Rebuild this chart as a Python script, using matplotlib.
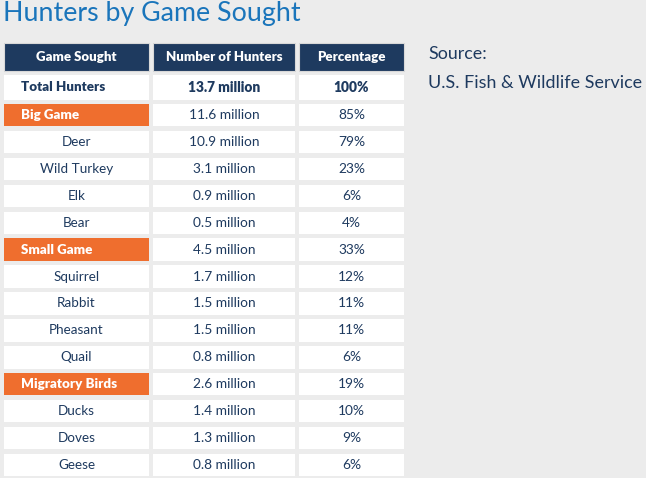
import matplotlib.pyplot as plt
from matplotlib.patches import Rectangle

plt.rcParams['font.family'] = ['Lato', 'DejaVu Sans']

# table content
headers = ['Game Sought', 'Number of Hunters', 'Percentage']
games = ['Total Hunters', 'Big Game', 'Deer', 'Wild Turkey', 'Elk', 'Bear',
         'Small Game', 'Squirrel', 'Rabbit', 'Pheasant', 'Quail',
         'Migratory Birds', 'Ducks', 'Doves', 'Geese']
hunters = ['13.7 million', '11.6 million', '10.9 million', '3.1 million', '0.9 million',
           '0.5 million', '4.5 million', '1.7 million', '1.5 million', '1.5 million',
           '0.8 million', '2.6 million', '1.4 million', '1.3 million', '0.8 million']
percent = ['100%', '85%', '79%', '23%', '6%', '4%', '33%', '12%', '11%', '11%',
           '6%', '19%', '10%', '9%', '6%']
kind = ['total', 'group', 'item', 'item', 'item', 'item', 'group', 'item', 'item',
        'item', 'item', 'group', 'item', 'item', 'item']

bg = '#ececec'
navy = '#1e3a5f'
orange = '#ef6e2e'
blue = '#1a75bb'

fig = plt.figure(figsize=(6.46, 4.78), dpi=100)
fig.patch.set_facecolor(bg)
ax = fig.add_axes([0, 0, 1, 1])
ax.set_xlim(0, 646)
ax.set_ylim(478, 0)
ax.axis('off')

ax.text(3, 13, 'Hunters by Game Sought', color=blue, fontsize=19.3,
        va='center', ha='left')

cols = [(4, 149), (153, 295), (299, 404)]

# header row
for (x0, x1), h in zip(cols, headers):
    ax.add_patch(Rectangle((x0, 43), x1 - x0, 28, facecolor=navy,
                           edgecolor='#d8d8d8', lw=0.8))
    ax.text((x0 + x1) / 2, 57, h, color='white', fontsize=9.5,
            fontweight='heavy', ha='center', va='center')

# body rows
for i, (g, n, p, k) in enumerate(zip(games, hunters, percent, kind)):
    top = 77 + i * 26.9 if i > 0 else 75
    bot = 77 + i * 26.9 + 22.5
    yc = (top + bot) / 2
    for j, (x0, x1) in enumerate(cols):
        fc = orange if (k == 'group' and j == 0) else 'white'
        ax.add_patch(Rectangle((x0, top), x1 - x0, bot - top, facecolor=fc,
                               edgecolor='none'))
    if k == 'group':
        ax.text(21, yc, g, color='white', fontsize=9.6, fontweight='heavy',
                ha='left', va='center')
    elif k == 'total':
        ax.text(21, yc, g, color=navy, fontsize=9.6, fontweight='heavy',
                ha='left', va='center')
    else:
        ax.text((cols[0][0] + cols[0][1]) / 2, yc, g, color=navy, fontsize=9.7,
                ha='center', va='center')
    w = 'heavy' if k == 'total' else 'normal'
    ax.text((cols[1][0] + cols[1][1]) / 2, yc, n, color=navy, fontsize=9.9,
            fontweight=w, ha='center', va='center')
    ax.text((cols[2][0] + cols[2][1]) / 2, yc, p, color=navy, fontsize=9.9,
            fontweight=w, ha='center', va='center')

ax.text(428, 54, 'Source:', color=navy, fontsize=12.9, ha='left', va='center')
ax.text(428, 83, 'U.S. Fish & Wildlife Service', color=navy, fontsize=12.9,
        ha='left', va='center')

fig.savefig('out.png', dpi=100, facecolor=bg)
